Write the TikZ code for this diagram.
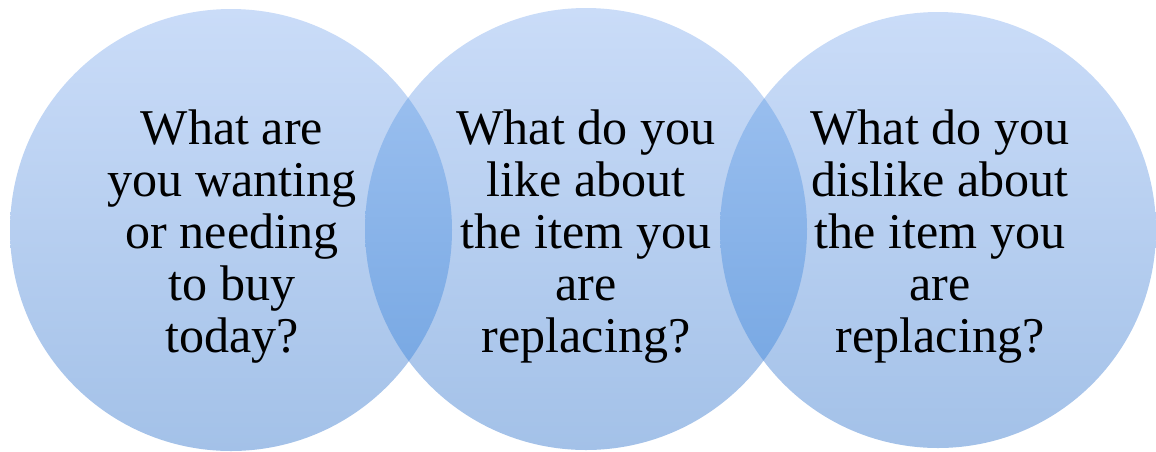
\documentclass[tikz,border=0pt]{standalone}
\usepackage{fontspec}
\setmainfont{Liberation Serif}
\definecolor{ctop}{HTML}{CADCF8}
\definecolor{cbot}{HTML}{A3C1E8}
\definecolor{otop}{HTML}{A3C5F2}
\definecolor{obot}{HTML}{6FA2E0}
\tikzset{
  circ/.style={top color=ctop, bottom color=cbot, draw=none},
  ovl/.style={top color=otop, bottom color=obot, draw=none},
  qtext/.style={align=center, inner sep=0pt, text=black,
    font=\fontsize{28.5}{29.6}\selectfont}
}
\begin{document}
\begin{tikzpicture}[x=0.02cm,y=-0.02cm]
\useasboundingbox (0,0) rectangle (1156,451);
\coordinate (c1) at (231,230);
\coordinate (c2) at (586,229);
\coordinate (c3) at (938,230);
\shade[circ] (c1) circle[radius=221];
\shade[circ] (c2) circle[radius=221];
\shade[circ] (c3) circle[radius=218];
\begin{scope}
  \clip (c1) circle[radius=221];
  \shade[ovl] (c2) circle[radius=221];
\end{scope}
\begin{scope}
  \clip (c3) circle[radius=218];
  \shade[ovl] (c2) circle[radius=221];
\end{scope}
\node[qtext] (t1) at (232,237) {What are\\you wanting\\or needing\\to buy\\today?};
\node[qtext] (t2) at (586,237) {What do you\\like about\\the item you\\are\\replacing?};
\node[qtext] (t3) at (940,237) {What do you\\dislike about\\the item you\\are\\replacing?};
\end{tikzpicture}
\end{document}
